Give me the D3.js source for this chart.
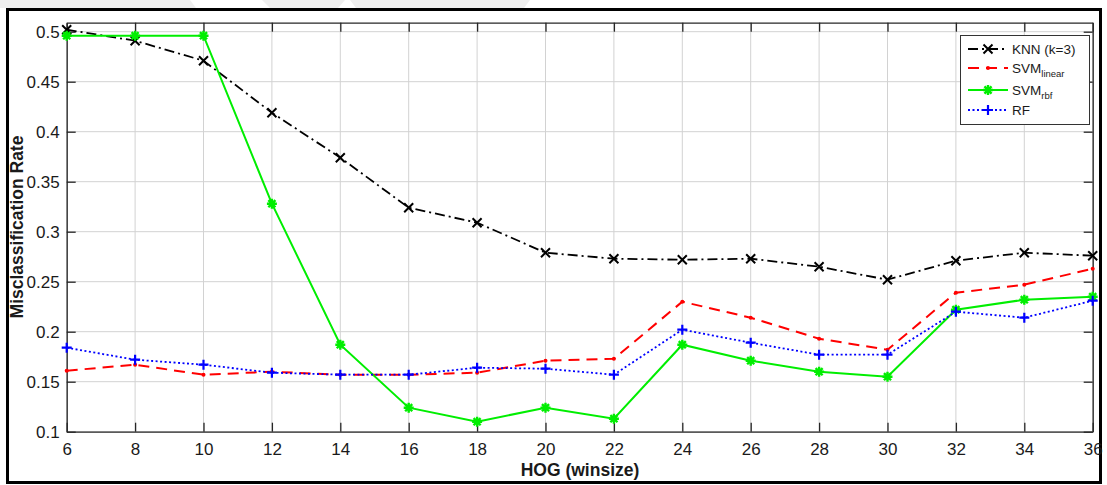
<!DOCTYPE html>
<meta charset="utf-8">
<style>
body { margin: 0; background: #fff; }
svg text { font-family: Arial, "Liberation Sans", sans-serif; fill: #1a1a1a; }
</style>
<body>
<svg width="1107" height="485"></svg>
<script src="https://d3js.org/d3.v7.min.js"></script>
<script>
// data
var winsize = [6, 8, 10, 12, 14, 16, 18, 20, 22, 24, 26, 28, 30, 32, 34, 36];
var knn    = [0.502, 0.491, 0.471, 0.419, 0.374, 0.324, 0.309, 0.279, 0.273, 0.272, 0.273, 0.265, 0.252, 0.271, 0.279, 0.276];
var svmLin = [0.161, 0.167, 0.157, 0.160, 0.157, 0.157, 0.159, 0.171, 0.173, 0.230, 0.214, 0.193, 0.182, 0.239, 0.247, 0.263];
var svmRbf = [0.496, 0.496, 0.496, 0.328, 0.187, 0.124, 0.110, 0.124, 0.113, 0.187, 0.171, 0.160, 0.155, 0.222, 0.232, 0.235];
var rf     = [0.184, 0.172, 0.167, 0.159, 0.157, 0.157, 0.164, 0.163, 0.157, 0.202, 0.189, 0.177, 0.177, 0.220, 0.214, 0.231];
var yTicks = [0.1, 0.15, 0.2, 0.25, 0.3, 0.35, 0.4, 0.45, 0.5];

var svg = d3.select("svg");

// faint watermark shapes above the frame
svg.append("path").attr("d", "M0,0 L190,0 L196,8 L0,8 Z").attr("fill", "#efefef");
svg.append("path").attr("d", "M262,0 L345,0 L338,8 L270,8 Z").attr("fill", "#efefef");
svg.append("path").attr("d", "M350,0 L530,0 L524,8 L356,8 Z").attr("fill", "#efefef");

// outer frame
svg.append("rect")
    .attr("x", 7.5).attr("y", 9.5)
    .attr("width", 1093).attr("height", 473)
    .attr("fill", "none").attr("stroke", "#000").attr("stroke-width", 3);

var pLeft = 66.7, pRight = 1092.7, pTop = 22.7, pBottom = 431.7;

var x = d3.scaleLinear().domain([6, 36]).range([pLeft, pRight]);
var y = d3.scaleLinear().domain([0.1, 0.509]).range([pBottom, pTop]);

// grid
var grid = svg.append("g").attr("class", "grid");
grid.selectAll("line.v").data(winsize).enter().append("line")
    .attr("x1", function(d) { return x(d); }).attr("x2", function(d) { return x(d); })
    .attr("y1", pTop).attr("y2", pBottom)
    .attr("stroke", "#d2d2d2").attr("stroke-width", 1);
grid.selectAll("line.h").data(yTicks).enter().append("line")
    .attr("x1", pLeft).attr("x2", pRight)
    .attr("y1", function(d) { return y(d); }).attr("y2", function(d) { return y(d); })
    .attr("stroke", "#d2d2d2").attr("stroke-width", 1);

// axes, ticks inside like matlab
var tickLen = -9;
svg.append("g").attr("transform", "translate(0," + pBottom + ")")
    .call(d3.axisBottom(x).tickValues(winsize).tickSizeInner(tickLen).tickSizeOuter(0).tickPadding(11))
    .call(styleAxis);
svg.append("g").attr("transform", "translate(0," + pTop + ")")
    .call(d3.axisTop(x).tickValues(winsize).tickSizeInner(tickLen).tickSizeOuter(0).tickFormat(""))
    .call(styleAxis);
svg.append("g").attr("transform", "translate(" + pLeft + ",0)")
    .call(d3.axisLeft(y).tickValues(yTicks).tickSizeInner(tickLen).tickSizeOuter(0).tickPadding(7).tickFormat(d3.format("~g")))
    .call(styleAxis);
svg.append("g").attr("transform", "translate(" + pRight + ",0)")
    .call(d3.axisRight(y).tickValues(yTicks).tickSizeInner(tickLen).tickSizeOuter(0).tickFormat(""))
    .call(styleAxis);

function styleAxis(g) {
  g.select(".domain").attr("stroke", "#262626").attr("stroke-width", 1.3);
  g.selectAll(".tick line").attr("stroke", "#262626").attr("stroke-width", 1.3);
  g.selectAll(".tick text").attr("font-size", 17).attr("fill", "#1a1a1a")
    .attr("font-family", "Arial, 'Liberation Sans', sans-serif");
}

// axis titles
svg.append("text")
    .attr("x", 580).attr("y", 476)
    .attr("text-anchor", "middle")
    .attr("font-size", 17.5).attr("font-weight", "bold")
    .text("HOG (winsize)");
svg.append("text")
    .attr("transform", "translate(23,227) rotate(-90)")
    .attr("text-anchor", "middle")
    .attr("font-size", 17.5).attr("font-weight", "bold")
    .text("Misclassification Rate");

var series = [
  { name: "KNN", values: knn, color: "#000", dash: "10,4,2,4", width: 1.8, marker: "x" },
  { name: "SVMlin", values: svmLin, color: "#ff0000", dash: "11,7", width: 2, marker: "dot" },
  { name: "SVMrbf", values: svmRbf, color: "#00ee00", dash: null, width: 2, marker: "star" },
  { name: "RF", values: rf, color: "#0000ff", dash: "2,2.5", width: 1.8, marker: "plus" }
];

var line = d3.line()
    .x(function(d) { return x(d[0]); })
    .y(function(d) { return y(d[1]); });

function drawMarker(g, type, cx, cy, color) {
  if (type === "x") {
    g.append("path").attr("d", "M" + (cx - 4.5) + "," + (cy - 4.5) + "L" + (cx + 4.5) + "," + (cy + 4.5) +
        "M" + (cx - 4.5) + "," + (cy + 4.5) + "L" + (cx + 4.5) + "," + (cy - 4.5))
      .attr("stroke", color).attr("stroke-width", 2).attr("fill", "none");
  } else if (type === "plus") {
    g.append("path").attr("d", "M" + (cx - 5) + "," + cy + "L" + (cx + 5) + "," + cy +
        "M" + cx + "," + (cy - 5) + "L" + cx + "," + (cy + 5))
      .attr("stroke", color).attr("stroke-width", 2.2).attr("fill", "none");
  } else if (type === "star") {
    var d = "";
    for (var k = 0; k < 4; k++) {
      var a = k * Math.PI / 4;
      d += "M" + (cx - 5 * Math.cos(a)) + "," + (cy - 5 * Math.sin(a)) +
           "L" + (cx + 5 * Math.cos(a)) + "," + (cy + 5 * Math.sin(a));
    }
    g.append("path").attr("d", d).attr("stroke", color).attr("stroke-width", 2.4).attr("fill", "none");
  } else if (type === "dot") {
    g.append("circle").attr("cx", cx).attr("cy", cy).attr("r", 2).attr("fill", color);
  }
}

series.forEach(function(s) {
  var pts = winsize.map(function(w, i) { return [w, s.values[i]]; });
  var g = svg.append("g");
  g.append("path").datum(pts)
    .attr("d", line)
    .attr("fill", "none")
    .attr("stroke", s.color)
    .attr("stroke-width", s.width)
    .attr("stroke-dasharray", s.dash);
  pts.forEach(function(p) { drawMarker(g, s.marker, x(p[0]), y(p[1]), s.color); });
});

// legend
var lg = svg.append("g");
lg.append("rect")
    .attr("x", 960.5).attr("y", 35.5).attr("width", 129).attr("height", 89)
    .attr("fill", "#fff").attr("stroke", "#333").attr("stroke-width", 1);
var legendRows = [
  { s: series[0], y: 49, label: "KNN (k=3)", sub: null },
  { s: series[1], y: 68, label: "SVM", sub: "linear" },
  { s: series[2], y: 90, label: "SVM", sub: "rbf" },
  { s: series[3], y: 110, label: "RF", sub: null }
];
legendRows.forEach(function(r) {
  lg.append("line")
    .attr("x1", 968).attr("x2", 1008).attr("y1", r.y).attr("y2", r.y)
    .attr("stroke", r.s.color).attr("stroke-width", r.s.width)
    .attr("stroke-dasharray", r.s.dash);
  drawMarker(lg, r.s.marker, 988, r.y, r.s.color);
  var t = lg.append("text").attr("x", 1012).attr("y", r.y + 5).attr("font-size", 13.5);
  t.append("tspan").text(r.label);
  if (r.sub) t.append("tspan").attr("font-size", 9.5).attr("dy", 4).text(r.sub);
});
</script>
</body>
